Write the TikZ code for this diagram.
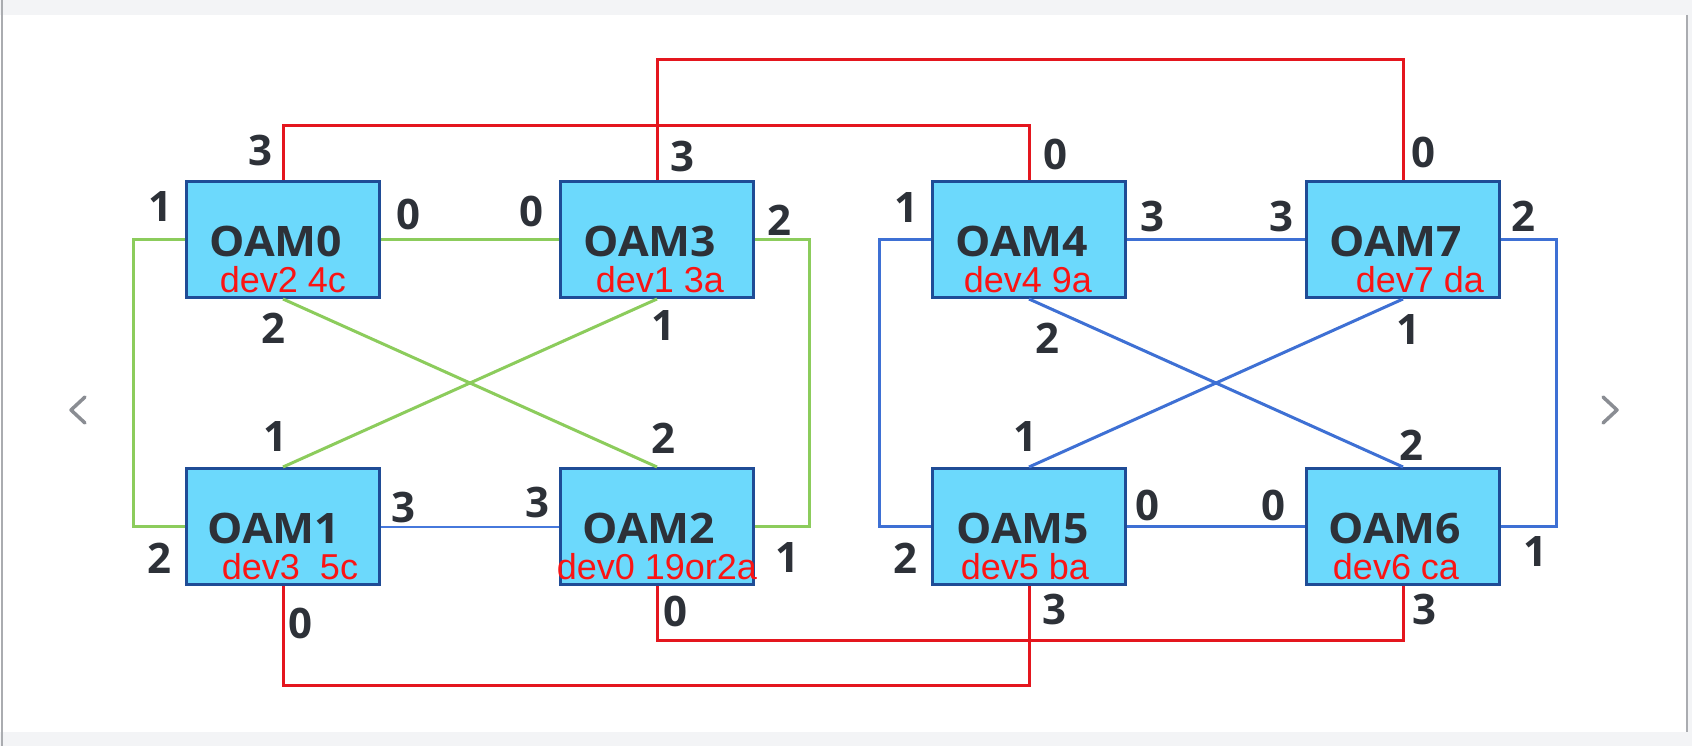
\documentclass[tikz,border=0pt]{standalone}
\usepackage{fontspec}
\setmainfont{Liberation Sans}
\newfontfamily\portfont{Open Sans}
\newfontfamily\titlefont{Open Sans}[FakeStretch=1.06]
\usepackage{tikz}

\definecolor{boxfill}{RGB}{108,217,252}
\definecolor{boxedge}{RGB}{31,76,150}
\definecolor{linkred}{RGB}{228,22,30}
\definecolor{linkgreen}{RGB}{140,204,92}
\definecolor{linkblue}{RGB}{62,112,212}
\definecolor{thinblue}{RGB}{70,120,220}
\definecolor{portgray}{RGB}{45,49,56}
\definecolor{devred}{RGB}{250,20,20}
\definecolor{bandgray}{RGB}{243,244,246}
\definecolor{edgegray}{RGB}{170,172,176}
\definecolor{arrowgray}{RGB}{138,141,147}

\begin{document}
\begin{tikzpicture}[x=1pt,y=1pt]
    \tikzstyle{every node}+=[inner sep=0pt]
    \tikzstyle{oambox}=[draw=boxedge, fill=boxfill, line width=3pt, minimum width=193pt, minimum height=116pt]
    \tikzstyle{oamname}=[anchor=base, text=portgray, font=\titlefont\bfseries\fontsize{42}{42}\selectfont]
    \tikzstyle{devname}=[anchor=base, text=devred, font=\fontsize{36}{36}\selectfont]
    \tikzstyle{portnum}=[text=portgray, font=\portfont\bfseries\fontsize{42}{42}\selectfont]
    \tikzstyle{redlink}=[linkred, line width=3pt]
    \tikzstyle{greenlink}=[linkgreen, line width=3pt]
    \tikzstyle{bluelink}=[linkblue, line width=3pt]
    \useasboundingbox (0,0) rectangle (1692,-746);
    % page
    \fill [white] (0,0) rectangle (1692,-746);
    \fill [bandgray] (0,0) rectangle (1692,-15);
    \fill [bandgray] (0,-732) rectangle (1692,-746);
    \fill [bandgray] (1688,-15) rectangle (1692,-732);
    \draw [edgegray, line width=2pt] (2,0) -- (2,-746);
    \draw [edgegray, line width=1.5pt] (1687,-15) -- (1687,-732);
    \draw [arrowgray, line width=3.5pt, line cap=round, line join=round] (85,-397) -- (71,-410) -- (85,-423);
    \draw [arrowgray, line width=3.5pt, line cap=round, line join=round] (1603,-397) -- (1617,-410) -- (1603,-423);
    % boxes
    \node [oambox] (oam0) at (283,-239.5) {};
    \node [oambox] (oam3) at (657,-239.5) {};
    \node [oambox] (oam4) at (1029,-239.5) {};
    \node [oambox] (oam7) at (1403,-239.5) {};
    \node [oambox] (oam1) at (283,-526.5) {};
    \node [oambox] (oam2) at (657,-526.5) {};
    \node [oambox] (oam5) at (1029,-526.5) {};
    \node [oambox] (oam6) at (1403,-526.5) {};
    \node [oamname] (oam0name) at (276,-257) {OAM0};
    \node [oamname] (oam3name) at (650,-257) {OAM3};
    \node [oamname] (oam4name) at (1022,-257) {OAM4};
    \node [oamname] (oam7name) at (1396,-257) {OAM7};
    \node [oamname] (oam1name) at (274,-543.5) {OAM1};
    \node [oamname] (oam2name) at (649,-543.5) {OAM2};
    \node [oamname] (oam5name) at (1023,-543.5) {OAM5};
    \node [oamname] (oam6name) at (1395,-543.5) {OAM6};
    \node [devname] (oam0dev) at (283,-292) {dev2 4c};
    \node [devname] (oam3dev) at (660,-292) {dev1 3a};
    \node [devname] (oam4dev) at (1028,-292) {dev4 9a};
    \node [devname] (oam7dev) at (1420,-292) {dev7 da};
    \node [devname] (oam1dev) at (290,-579) {dev3\ \ 5c};
    \node [devname] (oam2dev) at (657,-579) {dev0 19or2a};
    \node [devname] (oam5dev) at (1025,-579) {dev5 ba};
    \node [devname] (oam6dev) at (1396,-579) {dev6 ca};
    % left group
    \draw [greenlink] (oam0.east) -- (oam3.west);
    \draw [greenlink] (oam0.west) -- ++(-52,0) |- (oam1.west);
    \draw [greenlink] (oam3.east) -- ++(54,0) |- (oam2.east);
    \draw [greenlink] (oam0.south) -- (oam2.north);
    \draw [greenlink] (oam3.south) -- (oam1.north);
    \draw [thinblue, line width=2pt] (oam1.east) -- (oam2.west);
    % right group
    \draw [bluelink] (oam4.east) -- (oam7.west);
    \draw [bluelink] (oam5.east) -- (oam6.west);
    \draw [bluelink] (oam4.west) -- ++(-52,0) |- (oam5.west);
    \draw [bluelink] (oam7.east) -- ++(55,0) |- (oam6.east);
    \draw [bluelink] (oam4.south) -- (oam6.north);
    \draw [bluelink] (oam7.south) -- (oam5.north);
    % between groups
    \draw [redlink] (oam0.north) -- ++(0,54) -| (oam4.north);
    \draw [redlink] (oam3.north) -- ++(0,120) -| (oam7.north);
    \draw [redlink] (oam1.south) -- ++(0,-99) -| (oam5.south);
    \draw [redlink] (oam2.south) -- ++(0,-54) -| (oam6.south);
    % port numbers
    \node [portnum] (oam0p3) at (260,-150) {3};
    \node [portnum] (oam0p1) at (160,-207) {1};
    \node [portnum] (oam0p0) at (408,-214) {0};
    \node [portnum] (oam0p2) at (273,-328) {2};
    \node [portnum] (oam3p0) at (531,-211) {0};
    \node [portnum] (oam3p3) at (682,-156) {3};
    \node [portnum] (oam3p2) at (779,-220) {2};
    \node [portnum] (oam3p1) at (663,-326) {1};
    \node [portnum] (oam4p1) at (906,-208) {1};
    \node [portnum] (oam4p0) at (1055,-154) {0};
    \node [portnum] (oam4p3) at (1152,-216) {3};
    \node [portnum] (oam4p2) at (1047,-338) {2};
    \node [portnum] (oam7p3) at (1281,-216) {3};
    \node [portnum] (oam7p0) at (1423,-152) {0};
    \node [portnum] (oam7p2) at (1523,-216) {2};
    \node [portnum] (oam7p1) at (1408,-330) {1};
    \node [portnum] (oam1p1) at (275,-437) {1};
    \node [portnum] (oam1p3) at (403,-507) {3};
    \node [portnum] (oam1p2) at (159,-558) {2};
    \node [portnum] (oam1p0) at (300,-623) {0};
    \node [portnum] (oam2p2) at (663,-438) {2};
    \node [portnum] (oam2p3) at (537,-502) {3};
    \node [portnum] (oam2p1) at (787,-558) {1};
    \node [portnum] (oam2p0) at (675,-611) {0};
    \node [portnum] (oam5p1) at (1025,-437) {1};
    \node [portnum] (oam5p0) at (1147,-505) {0};
    \node [portnum] (oam5p2) at (905,-558) {2};
    \node [portnum] (oam5p3) at (1054,-609) {3};
    \node [portnum] (oam6p0) at (1273,-505) {0};
    \node [portnum] (oam6p2) at (1411,-445) {2};
    \node [portnum] (oam6p1) at (1535,-552) {1};
    \node [portnum] (oam6p3) at (1424,-609) {3};
\end{tikzpicture}
\end{document}
